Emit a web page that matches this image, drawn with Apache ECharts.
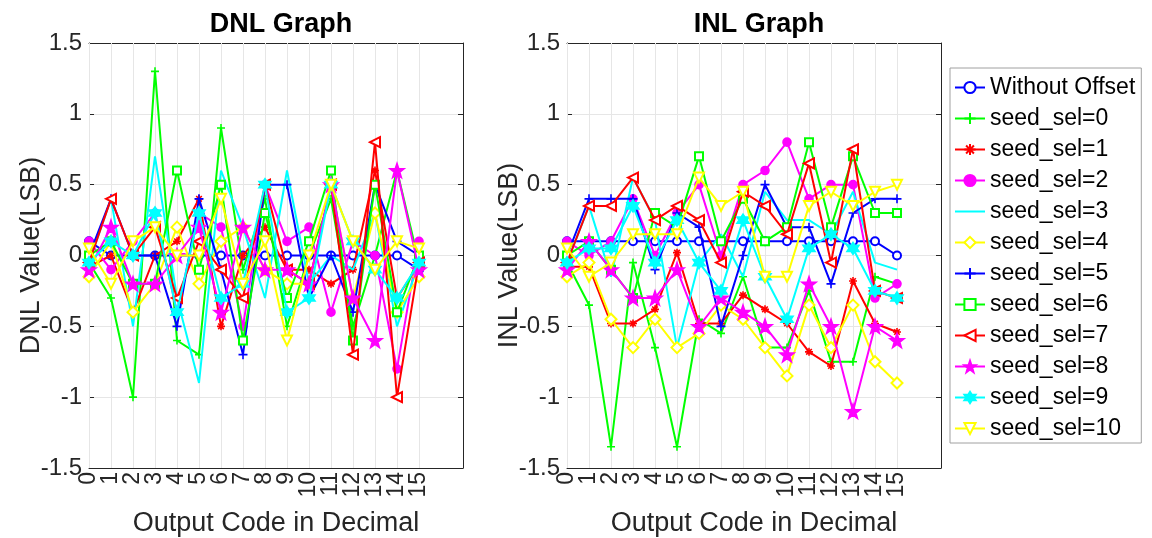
<!DOCTYPE html>
<html>
<head>
<meta charset="utf-8">
<script src="https://cdn.jsdelivr.net/npm/echarts@6/dist/echarts.min.js"></script>
<style>html,body{margin:0;padding:0;background:#fff;}#c{width:1152px;height:538px;}</style>
</head>
<body>
<div id="c"></div>
<script>
// ---------- data ----------
const codes = [0,1,2,3,4,5,6,7,8,9,10,11,12,13,14,15];
const seriesNames = ['Without Offset','seed_sel=0','seed_sel=1','seed_sel=2','seed_sel=3','seed_sel=4','seed_sel=5','seed_sel=6','seed_sel=7','seed_sel=8','seed_sel=9','seed_sel=10'];

// DNL values (LSB)
const dnlWithoutOffset = [0.1,0,0,0,0,0,0,0,0,0,0,0,0,0,0,-0.1];
const dnlSeed0  = [-0.05,-0.3,-1.0,1.3,-0.6,-0.7,0.9,-0.1,0.4,-0.5,0,0.4,-0.5,0,0.6,-0.05];
const dnlSeed1  = [-0.08,0,-0.4,0,0.1,0.4,-0.5,0,0.2,-0.1,-0.1,-0.2,-0.1,0.6,-0.3,-0.06];
const dnlSeed2  = [0.1,-0.1,0.1,0.3,-0.4,0.3,0.2,-0.5,0.5,0.1,0.2,-0.4,0.1,0,-0.8,0.1];
const dnlSeed3  = [-0.05,0.4,-0.5,0.7,-0.3,-0.9,0.6,0.2,-0.3,0.6,-0.2,0,-0.1,0.3,-0.5,-0.05];
const dnlSeed4  = [-0.15,0.1,-0.4,-0.2,0.2,-0.2,0.1,0.2,-0.1,-0.2,-0.2,0.5,-0.3,0.3,-0.4,-0.15];
const dnlSeed5  = [0,0.4,0,0,-0.5,0.4,-0.1,-0.7,0.5,0.5,-0.3,0,-0.4,0.5,0.1,0];
const dnlSeed6  = [0,0.1,-0.2,-0.2,0.6,-0.1,0.5,-0.6,0.3,-0.3,0.1,0.6,-0.6,0.5,-0.4,0];
const dnlSeed7  = [-0.05,0.4,0,0.2,-0.3,0.1,-0.1,-0.3,0.5,-0.1,-0.2,0.5,-0.7,0.8,-1.0,-0.05];
const dnlSeed8  = [-0.1,0.2,-0.2,-0.2,0,0.2,-0.4,0.2,-0.1,-0.1,-0.2,0.5,-0.3,-0.6,0.6,-0.1];
const dnlSeed9  = [-0.05,0.1,0,0.3,-0.4,0.3,-0.3,-0.2,0.5,-0.4,-0.3,0.5,0.1,-0.1,-0.3,-0.05];
const dnlSeed10 = [0.05,-0.2,0.1,0.2,0,0,0.4,-0.2,0.1,-0.6,0,0.5,0.1,-0.1,0.1,0.05];

// INL values (LSB)
const inlWithoutOffset = [0.1,0.1,0.1,0.1,0.1,0.1,0.1,0.1,0.1,0.1,0.1,0.1,0.1,0.1,0.1,0];
const inlSeed0  = [-0.05,-0.35,-1.35,-0.05,-0.65,-1.35,-0.45,-0.55,-0.15,-0.65,-0.65,-0.25,-0.75,-0.75,-0.15,-0.2];
const inlSeed1  = [-0.08,-0.08,-0.48,-0.48,-0.38,0.02,-0.48,-0.48,-0.28,-0.38,-0.48,-0.68,-0.78,-0.18,-0.48,-0.54];
const inlSeed2  = [0.1,0,0.1,0.4,0,0.3,0.5,0,0.5,0.6,0.8,0.4,0.5,0.5,-0.3,-0.2];
const inlSeed3  = [-0.05,0.35,-0.15,0.55,0.25,-0.65,-0.05,0.15,-0.15,0.45,0.25,0.25,0.15,0.45,-0.05,-0.1];
const inlSeed4  = [-0.15,-0.05,-0.45,-0.65,-0.45,-0.65,-0.55,-0.35,-0.45,-0.65,-0.85,-0.35,-0.65,-0.35,-0.75,-0.9];
const inlSeed5  = [0,0.4,0.4,0.4,-0.1,0.3,0.2,-0.5,0,0.5,0.2,0.2,-0.2,0.3,0.4,0.4];
const inlSeed6  = [0,0.1,-0.1,-0.3,0.3,0.2,0.7,0.1,0.4,0.1,0.2,0.8,0.2,0.7,0.3,0.3];
const inlSeed7  = [-0.05,0.35,0.35,0.55,0.25,0.35,0.25,-0.05,0.45,0.35,0.15,0.65,-0.05,0.75,-0.25,-0.3];
const inlSeed8  = [-0.1,0.1,-0.1,-0.3,-0.3,-0.1,-0.5,-0.3,-0.4,-0.5,-0.7,-0.2,-0.5,-1.1,-0.5,-0.6];
const inlSeed9  = [-0.05,0.05,0.05,0.35,-0.05,0.25,-0.05,-0.25,0.25,-0.15,-0.45,0.05,0.15,0.05,-0.25,-0.3];
const inlSeed10 = [0.05,-0.15,-0.05,0.15,0.15,0.15,0.55,0.35,0.45,-0.15,-0.15,0.35,0.45,0.35,0.45,0.5];

const dnlSets = [dnlWithoutOffset,dnlSeed0,dnlSeed1,dnlSeed2,dnlSeed3,dnlSeed4,dnlSeed5,dnlSeed6,dnlSeed7,dnlSeed8,dnlSeed9,dnlSeed10];
const inlSets = [inlWithoutOffset,inlSeed0,inlSeed1,inlSeed2,inlSeed3,inlSeed4,inlSeed5,inlSeed6,inlSeed7,inlSeed8,inlSeed9,inlSeed10];

// tick label groups (split so neighbouring rotated labels are never culled)
const evenCodes = codes.filter(c => c % 2 === 0);
const oddCodes = codes.filter(c => c % 2 === 1);

// ---------- styles ----------
const FONT = '"Liberation Sans", Arial, Helvetica, sans-serif';
const AX = '#262626';
const GRIDC = '#e6e6e6';
const PLUS = 'path://M0,-10L0,10M-10,0L10,0';
const ASTER = 'path://M0,-10L0,10M-10,0L10,0M-7,-7L7,7M7,-7L-7,7';
const STAR5 = 'path://M0,-10L2.35,-3.24L9.51,-3.09L3.8,1.24L5.88,8.09L0,4L-5.88,8.09L-3.8,1.24L-9.51,-3.09L-2.35,-3.24Z';
const STAR6 = 'path://M0,-10L2.89,-5L8.66,-5L5.77,0L8.66,5L2.89,5L0,10L-2.89,5L-8.66,5L-5.77,0L-8.66,-5L-2.89,-5Z';
const styles = [
  {c:'#0000ff', sym:'emptyCircle', size:8},
  {c:'#00ff00', sym:PLUS, size:8},
  {c:'#ff0000', sym:ASTER, size:8},
  {c:'#ff00ff', sym:'circle', size:8},
  {c:'#00ffff', sym:'circle', size:6, hidden:true},
  {c:'#ffff00', sym:'emptyDiamond', size:11},
  {c:'#0000ff', sym:PLUS, size:9},
  {c:'#00ff00', sym:'emptyRect', size:8},
  {c:'#ff0000', sym:'emptyTriangle', size:10, rot:90},
  {c:'#ff00ff', sym:STAR5, size:14},
  {c:'#00ffff', sym:STAR6, size:12},
  {c:'#ffff00', sym:'emptyTriangle', size:10, rot:180}
];

function makeSeries(sets, xIdx, yIdx) {
  const list = sets.map((vals, i) => {
    const s = styles[i];
    return {
      name: seriesNames[i],
      type: 'line',
      xAxisIndex: xIdx, yAxisIndex: yIdx,
      data: codes.map((c, k) => [c, vals[k]]),
      symbol: s.sym, symbolSize: s.size, symbolRotate: s.rot || 0,
      showAllSymbol: true,
      lineStyle: {color: s.c, width: 2},
      itemStyle: {color: s.c, borderColor: s.c, borderWidth: 1.6, opacity: s.hidden ? 0 : 1},
      emphasis: {disabled: true},
      z: 3 + i
    };
  });
  // vertical grid lines at the tick codes
  list[0].markLine = {
    silent: true, symbol: 'none', z: 1,
    label: {show: false},
    lineStyle: {color: GRIDC, width: 1, type: 'solid'},
    emphasis: {disabled: true},
    data: codes.map(c => ({xAxis: c}))
  };
  return list;
}

const xLabelStyle = {rotate:90, fontSize:23, color:AX, fontFamily:FONT, margin:4,
                     showMinLabel:true, showMaxLabel:true, hideOverlap:false};

function xMain(g) {
  return {
    type:'value', gridIndex:g, min:0, max:17, interval:1, position:'bottom',
    axisLine:{show:true, onZero:false, lineStyle:{color:AX, width:1}},
    axisTick:{show:true, inside:true, length:5, customValues:codes, lineStyle:{color:AX}},
    axisLabel:Object.assign({customValues:evenCodes}, xLabelStyle),
    splitLine:{show:false},
    name:'Output Code in Decimal', nameLocation:'middle', nameGap:42, nameMoveOverlap:false,
    nameTextStyle:{fontSize:27, color:AX, fontFamily:FONT}
  };
}
function xOdd(g) {
  return {
    type:'value', gridIndex:g, min:0, max:17, interval:1, position:'bottom', offset:0,
    axisLine:{show:false}, axisTick:{show:false},
    axisLabel:Object.assign({customValues:oddCodes}, xLabelStyle),
    splitLine:{show:false}
  };
}
function xTop(g) {
  return {
    type:'value', gridIndex:g, min:0, max:17, interval:1, position:'top',
    axisLine:{show:true, onZero:false, lineStyle:{color:AX, width:1}},
    axisTick:{show:true, inside:true, length:5, customValues:codes, lineStyle:{color:AX}},
    axisLabel:{show:false}, splitLine:{show:false}
  };
}
function yMain(g, name) {
  return {
    type:'value', gridIndex:g, min:-1.5, max:1.5, interval:0.5, position:'left',
    axisLine:{show:true, onZero:false, lineStyle:{color:AX, width:1}},
    axisTick:{show:true, inside:true, length:5, lineStyle:{color:AX}},
    axisLabel:{fontSize:24, color:AX, fontFamily:FONT, margin:7, showMinLabel:true, showMaxLabel:true},
    splitLine:{show:true, lineStyle:{color:GRIDC, width:1}},
    name:name, nameLocation:'middle', nameGap:44, nameMoveOverlap:false,
    nameTextStyle:{fontSize:27, color:AX, fontFamily:FONT}
  };
}
function yRight(g) {
  return {
    type:'value', gridIndex:g, min:-1.5, max:1.5, interval:0.5, position:'right',
    axisLine:{show:true, onZero:false, lineStyle:{color:AX, width:1}},
    axisTick:{show:true, inside:true, length:5, lineStyle:{color:AX}},
    axisLabel:{show:false}, splitLine:{show:false}
  };
}

const chart = echarts.init(document.getElementById('c'), null, {renderer:'canvas'});
chart.setOption({
  animation: false,
  backgroundColor: '#fff',
  title: [
    {text:'DNL Graph', left:276, top:6, textAlign:'center', textStyle:{fontSize:27, fontWeight:'bold', color:'#000', fontFamily:FONT}},
    {text:'INL Graph', left:754, top:6, textAlign:'center', textStyle:{fontSize:27, fontWeight:'bold', color:'#000', fontFamily:FONT}}
  ],
  grid: [
    {left:89, top:43, width:374, height:425, outerBoundsMode:'none', containLabel:false},
    {left:567, top:43, width:374, height:425, outerBoundsMode:'none', containLabel:false}
  ],
  // x axes: 0 DNL bottom, 1 DNL odd labels, 2 DNL top, 3 INL bottom, 4 INL odd labels, 5 INL top
  xAxis: [xMain(0), xOdd(0), xTop(0), xMain(1), xOdd(1), xTop(1)],
  yAxis: [yMain(0,'DNL Value(LSB)'), yRight(0), yMain(1,'INL Value(LSB)'), yRight(1)],
  legend: {
    orient:'vertical', left:950, top:68,
    itemWidth:30, itemHeight:14, itemGap:8,
    padding:[8,6,3,4],
    borderColor:'#a0a0a0', borderWidth:1, backgroundColor:'#fff',
    textStyle:{fontSize:23, color:'#000', fontFamily:FONT},
    data: seriesNames
  },
  series: makeSeries(dnlSets, 0, 0).concat(makeSeries(inlSets, 3, 2))
});
</script>
</body>
</html>
